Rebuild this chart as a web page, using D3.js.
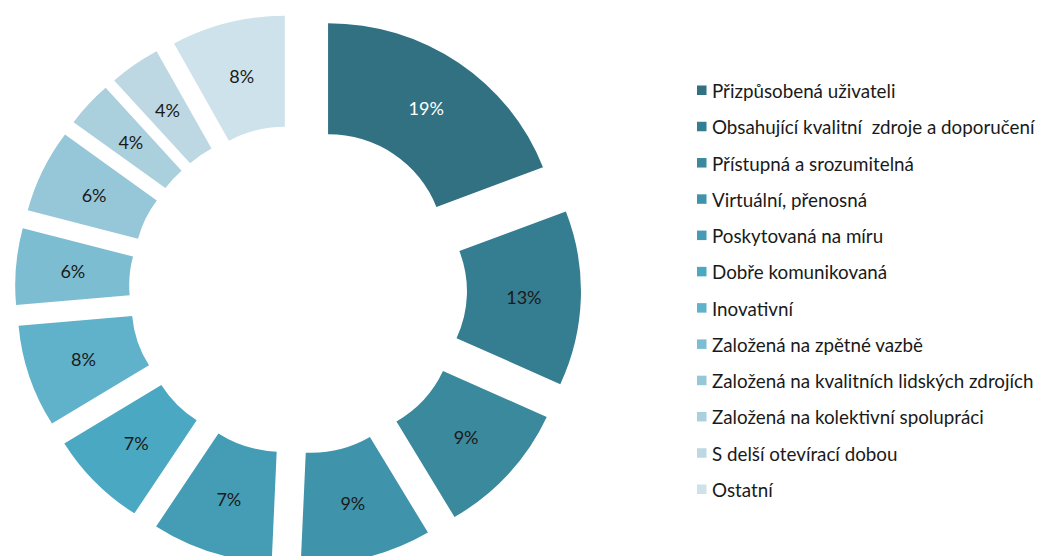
<!DOCTYPE html>
<html>
<head>
<meta charset="utf-8">
<script src="https://cdn.jsdelivr.net/npm/d3@7"></script>
<style>
  html, body { margin: 0; padding: 0; background: #ffffff; }
  svg { display: block; }
</style>
</head>
<body>
<svg id="chart" width="1040" height="556"></svg>
<script>
const categories = [
  "Přizpůsobená uživateli",
  "Obsahující kvalitní  zdroje a doporučení",
  "Přístupná a srozumitelná",
  "Virtuální, přenosná",
  "Poskytovaná na míru",
  "Dobře komunikovaná",
  "Inovativní",
  "Založená na zpětné vazbě",
  "Založená na kvalitních lidských zdrojích",
  "Založená na kolektivní spolupráci",
  "S delší otevírací dobou",
  "Ostatní"
];
// slice sizes (share of the ring, in %)
const values = [19.2, 12.6, 9.7, 9.2, 8.5, 7.0, 7.4, 5.5, 6.0, 3.3, 3.6, 8.0];
// data labels as printed on the chart
const labels = ["19%", "13%", "9%", "9%", "7%", "7%", "8%", "6%", "6%", "4%", "4%", "8%"];
const colors = [
  "#317182", "#357d90", "#3a899d", "#3f93aa", "#449db5", "#4aa8c2",
  "#60b1ca", "#7dbdd1", "#96c7d8", "#aacfdd", "#bdd8e3", "#cde2ea"
];
const labelColors = ["#ffffff", "#1a1a1a", "#1a1a1a", "#1a1a1a", "#1a1a1a", "#1a1a1a",
  "#1a1a1a", "#1a1a1a", "#1a1a1a", "#1a1a1a", "#1a1a1a", "#1a1a1a"];

const svg = d3.select("#chart");
const cx = 298, cy = 289.7, sy = 0.974, R = 230, r = 116, explode = 53;

const pie = d3.pie().sort(null).value(d => d);
const arcs = pie(values);
const arc = d3.arc().innerRadius(r).outerRadius(R);
const offset = d => {
  const a = (d.startAngle + d.endAngle) / 2;
  return [explode * Math.sin(a), -explode * Math.cos(a)];
};

// ring (drawn slightly flattened vertically, as in the original)
const ring = svg.append("g").attr("transform", `translate(${cx},${cy}) scale(1,${sy})`);
ring.selectAll("path").data(arcs).enter().append("path")
  .attr("transform", d => `translate(${offset(d)})`)
  .attr("d", arc)
  .attr("fill", (d, i) => colors[i]);

// data labels
svg.append("g").selectAll("text").data(arcs).enter().append("text")
  .attr("transform", d => {
    const o = offset(d), c = arc.centroid(d);
    return `translate(${cx + o[0] + c[0]},${cy + sy * (o[1] + c[1])})`;
  })
  .attr("text-anchor", "middle")
  .attr("dominant-baseline", "central")
  .attr("font-family", "Lato, 'Open Sans', sans-serif")
  .attr("font-size", 18)
  .attr("fill", (d, i) => labelColors[i])
  .text((d, i) => labels[i]);

// legend
const legendY = d3.scalePoint().domain(categories).range([90, 489]);
const leg = svg.append("g").selectAll("g").data(categories).enter().append("g")
  .attr("transform", d => `translate(697,${legendY(d)})`);
leg.append("rect").attr("x", 0).attr("y", -4.5).attr("width", 9.5).attr("height", 9.5)
  .attr("fill", (d, i) => colors[i]);
leg.append("text").attr("x", 15).attr("y", 0.5)
  .attr("dominant-baseline", "central")
  .attr("font-family", "Lato, 'Open Sans', sans-serif")
  .attr("font-size", 18.8)
  .attr("fill", "#1a1a1a")
  .style("white-space", "pre")
  .text(d => d);
</script>
</body>
</html>
